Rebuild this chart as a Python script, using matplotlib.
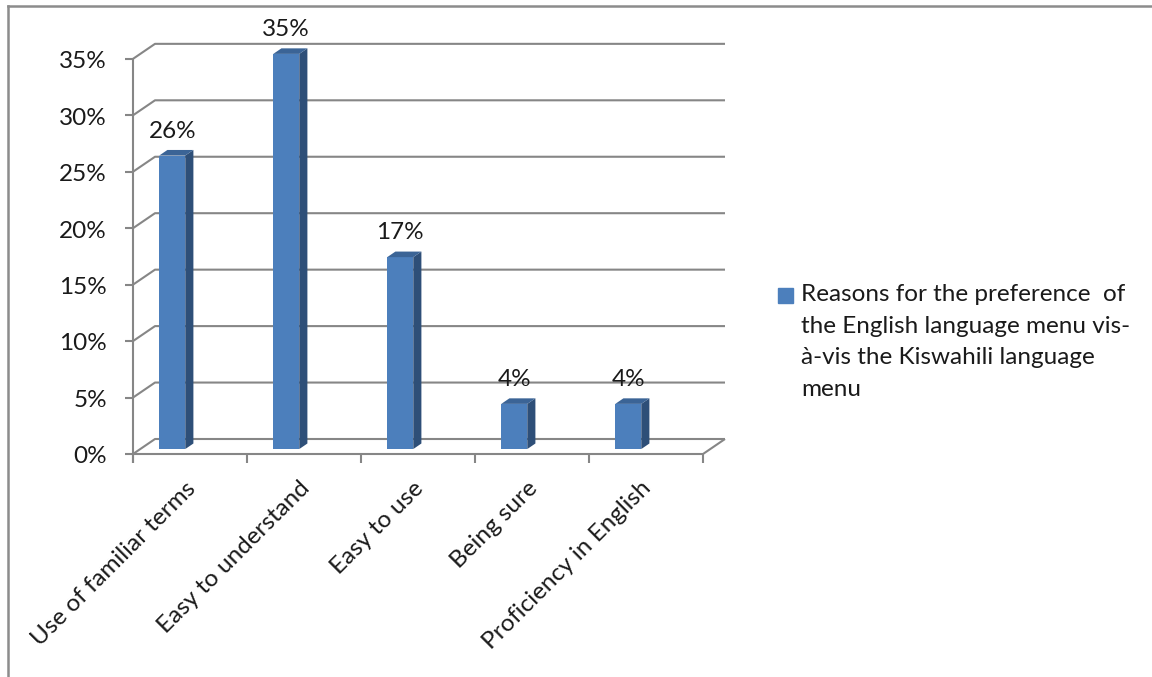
import matplotlib
matplotlib.use("Agg")
import matplotlib.pyplot as plt
from matplotlib.lines import Line2D
from matplotlib.patches import Rectangle

categories = ["Use of familiar terms", "Easy to understand", "Easy to use",
              "Being sure", "Proficiency in English"]
values = [26, 35, 17, 4, 4]
value_labels = ["26%", "35%", "17%", "4%", "4%"]
yticks = [0, 5, 10, 15, 20, 25, 30, 35]
ytick_labels = ["0%", "5%", "10%", "15%", "20%", "25%", "30%", "35%"]
legend_label = ("Reasons for the preference  of\nthe English language menu vis-\n"
                "à-vis the Kiswahili language\nmenu")

FONT = ["Lato", "DejaVu Sans"]
FS = 17.5
GRID = "#868686"
FRONT = "#4C7FBC"
SIDE = "#2E4F78"
TOP = "#3B6496"

W, H = 1152, 677
fig = plt.figure(figsize=(W / 100, H / 100), dpi=100)

# pixel geometry of the oblique box
px_x0, px_y0 = 133, 454          # front-left-bottom corner
px_cat = 114.0                   # pixels per category
px_pct = 11.29                   # pixels per percent
px_dx, px_dy = 22, 15            # depth offset in pixels
n = len(categories)
DX = px_dx / px_cat
DY = px_dy / px_pct
YMAX = 35

ax_w = n * px_cat + px_dx
ax_h = (YMAX + DY) * px_pct
ax = fig.add_axes([px_x0 / W, (H - px_y0) / H, ax_w / W, ax_h / H])
ax.set_xlim(0, n + DX)
ax.set_ylim(0, YMAX + DY)
ax.axis("off")

lk = dict(color=GRID, lw=1.5, clip_on=False, solid_capstyle="butt", zorder=1)
# back wall gridlines + left side wall diagonals
for v in yticks:
    ax.plot([0, DX, n + DX], [v, v + DY, v + DY], **lk)
# floor front edge and right diagonal
ax.plot([0, n, n + DX], [0, 0, DY], **lk)
# front value axis
tick_len_y = 9 / px_pct
ax.plot([0, 0], [-tick_len_y, YMAX], **lk)
for v, lab in zip(yticks, ytick_labels):
    ax.plot([-8 / px_cat, 0], [v, v], **lk)
    ax.text(-26 / px_cat, v - 0.25, lab, ha="right", va="center",
            fontsize=FS, family=FONT, color="#1a1a1a")
# category ticks
for i in range(n + 1):
    ax.plot([i, i], [0, -tick_len_y], **lk)

# bars (oblique 3D look)
z0, z1 = 0.33, 0.70
bw = 26 / px_cat
off = 19 / px_cat
for i, (v, lab) in enumerate(zip(values, value_labels)):
    x0 = i + off + z0 * DX
    y0 = z0 * DY
    ax.bar(x0, v, width=bw, bottom=y0, align="edge", color=FRONT,
           edgecolor="none", zorder=3)
    ddx = (z1 - z0) * DX
    ddy = (z1 - z0) * DY
    # side face
    ax.fill([x0 + bw, x0 + bw + ddx, x0 + bw + ddx, x0 + bw],
            [y0, y0 + ddy, y0 + v + ddy, y0 + v], color=SIDE, zorder=3, lw=0)
    # top face
    ax.fill([x0, x0 + bw, x0 + bw + ddx, x0 + ddx],
            [y0 + v, y0 + v, y0 + v + ddy, y0 + v + ddy], color=TOP, zorder=3, lw=0)
    ax.text(x0 + bw / 2, y0 + v + 18 / px_pct, lab, ha="center", va="baseline",
            fontsize=FS, family=FONT, color="#1a1a1a", zorder=4)
    ax.text(i + 0.5 + 2 / px_cat, -31 / px_pct, categories[i], rotation=45,
            rotation_mode="anchor", ha="right", va="center",
            fontsize=FS, family=FONT, color="#1a1a1a")

# legend
fig.patches.append(Rectangle((778 / W, (H - 303) / H), 15 / W, 15 / H,
                             transform=fig.transFigure, color=FRONT))
fig.text(801 / W, (H - 284) / H, legend_label, ha="left", va="top",
         fontsize=FS, family=FONT, color="#1a1a1a", linespacing=1.62)

# outer frame (top and left edges visible)
fig.add_artist(Line2D([8 / W, 1.0], [(H - 6) / H, (H - 6) / H],
                      transform=fig.transFigure, color="#8c8c8c", lw=1.8))
fig.add_artist(Line2D([8 / W, 8 / W], [0, (H - 6) / H],
                      transform=fig.transFigure, color="#8c8c8c", lw=1.8))

fig.savefig("out.png", dpi=100)
